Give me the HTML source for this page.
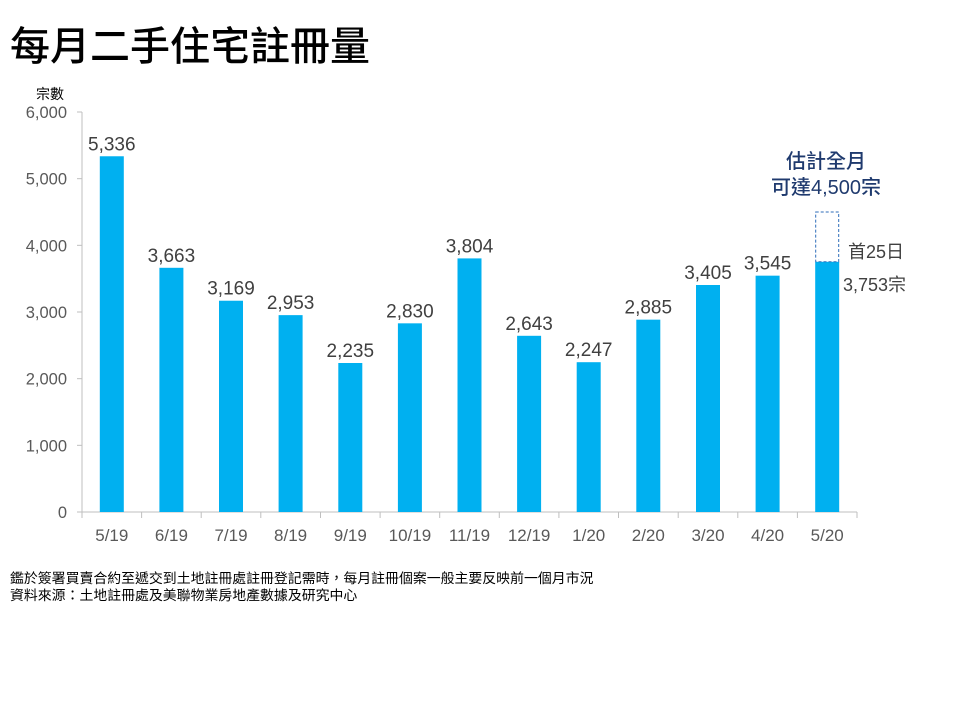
<!DOCTYPE html>
<html><head><meta charset="utf-8"><style>
html,body{margin:0;padding:0;background:#fff;width:960px;height:720px;overflow:hidden}
svg{display:block}
text{font-family:"Liberation Sans","Noto Sans CJK TC",sans-serif}
</style></head><body>
<svg width="960" height="720" viewBox="0 0 960 720" xmlns="http://www.w3.org/2000/svg">
<text x="10" y="60" font-size="40" font-weight="500" fill="#000" style="font-family:'Noto Sans CJK TC','Liberation Sans',sans-serif">每月二手住宅註冊量</text>
<text x="36" y="99" font-size="14" fill="#000" style="font-family:'Noto Sans CJK TC',sans-serif">宗數</text>
<g stroke="#BFBFBF" stroke-width="1" fill="none">
<line x1="82" y1="112" x2="82" y2="518"/>
<line x1="82" y1="512" x2="857" y2="512"/>
<line x1="77" y1="112" x2="82" y2="112"/>
<line x1="77" y1="178.67" x2="82" y2="178.67"/>
<line x1="77" y1="245.33" x2="82" y2="245.33"/>
<line x1="77" y1="312" x2="82" y2="312"/>
<line x1="77" y1="378.67" x2="82" y2="378.67"/>
<line x1="77" y1="445.33" x2="82" y2="445.33"/>
<line x1="77" y1="512" x2="82" y2="512"/>
<line x1="141.6" y1="512" x2="141.6" y2="518"/>
<line x1="201.2" y1="512" x2="201.2" y2="518"/>
<line x1="260.8" y1="512" x2="260.8" y2="518"/>
<line x1="320.5" y1="512" x2="320.5" y2="518"/>
<line x1="380.1" y1="512" x2="380.1" y2="518"/>
<line x1="439.7" y1="512" x2="439.7" y2="518"/>
<line x1="499.3" y1="512" x2="499.3" y2="518"/>
<line x1="558.9" y1="512" x2="558.9" y2="518"/>
<line x1="618.5" y1="512" x2="618.5" y2="518"/>
<line x1="678.2" y1="512" x2="678.2" y2="518"/>
<line x1="737.8" y1="512" x2="737.8" y2="518"/>
<line x1="797.4" y1="512" x2="797.4" y2="518"/>
<line x1="857" y1="512" x2="857" y2="518"/>
</g>
<g font-size="16.5" fill="#595959" text-anchor="end">
<text x="67" y="118">6,000</text>
<text x="67" y="184.7">5,000</text>
<text x="67" y="251.3">4,000</text>
<text x="67" y="318">3,000</text>
<text x="67" y="384.7">2,000</text>
<text x="67" y="451.3">1,000</text>
<text x="67" y="518">0</text>
</g>
<g fill="#00B0F0">
<rect x="99.8" y="156.27" width="24" height="355.73"/>
<rect x="159.4" y="267.8" width="24" height="244.2"/>
<rect x="219.0" y="300.73" width="24" height="211.27"/>
<rect x="278.6" y="315.13" width="24" height="196.87"/>
<rect x="338.3" y="363" width="24" height="149"/>
<rect x="397.9" y="323.33" width="24" height="188.67"/>
<rect x="457.5" y="258.4" width="24" height="253.6"/>
<rect x="517.1" y="335.8" width="24" height="176.2"/>
<rect x="576.7" y="362.2" width="24" height="149.8"/>
<rect x="636.3" y="319.67" width="24" height="192.33"/>
<rect x="696.0" y="285" width="24" height="227"/>
<rect x="755.6" y="275.67" width="24" height="236.33"/>
<rect x="815.2" y="261.8" width="24" height="250.2"/>
</g>
<rect x="815.7" y="212" width="23" height="49.8" fill="none" stroke="#2F6EBA" stroke-width="1" stroke-dasharray="3,2"/>
<g font-size="19" fill="#404040" text-anchor="middle">
<text x="111.8" y="150.3">5,336</text>
<text x="171.4" y="261.8">3,663</text>
<text x="231.0" y="294.7">3,169</text>
<text x="290.6" y="309.1">2,953</text>
<text x="350.3" y="357">2,235</text>
<text x="409.9" y="317.3">2,830</text>
<text x="469.5" y="252.4">3,804</text>
<text x="529.1" y="329.8">2,643</text>
<text x="588.7" y="356.2">2,247</text>
<text x="648.3" y="313.7">2,885</text>
<text x="708.0" y="279">3,405</text>
<text x="767.6" y="269.7">3,545</text>
</g>
<g font-size="17" fill="#595959" text-anchor="middle">
<text x="111.8" y="541">5/19</text>
<text x="171.4" y="541">6/19</text>
<text x="231.0" y="541">7/19</text>
<text x="290.6" y="541">8/19</text>
<text x="350.3" y="541">9/19</text>
<text x="409.9" y="541">10/19</text>
<text x="469.5" y="541">11/19</text>
<text x="529.1" y="541">12/19</text>
<text x="588.7" y="541">1/20</text>
<text x="648.3" y="541">2/20</text>
<text x="708.0" y="541">3/20</text>
<text x="767.6" y="541">4/20</text>
<text x="827.2" y="541">5/20</text>
</g>
<g font-size="20" fill="#1F3A6E" font-weight="500" text-anchor="middle">
<text x="826" y="168">估計全月</text>
<text x="826" y="194">可達4,500宗</text>
</g>
<g font-size="18" fill="#404040">
<text x="848" y="258">首25日</text>
<text x="843" y="291">3,753宗</text>
</g>
<g font-size="13.9" fill="#000" style="font-family:'Noto Sans CJK TC',sans-serif">
<text x="10" y="583">鑑於簽署買賣合約至遞交到土地註冊處註冊登記需時，每月註冊個案一般主要反映前一個月市況</text>
<text x="10" y="600">資料來源：土地註冊處及美聯物業房地產數據及研究中心</text>
</g>
</svg>
</body></html>
